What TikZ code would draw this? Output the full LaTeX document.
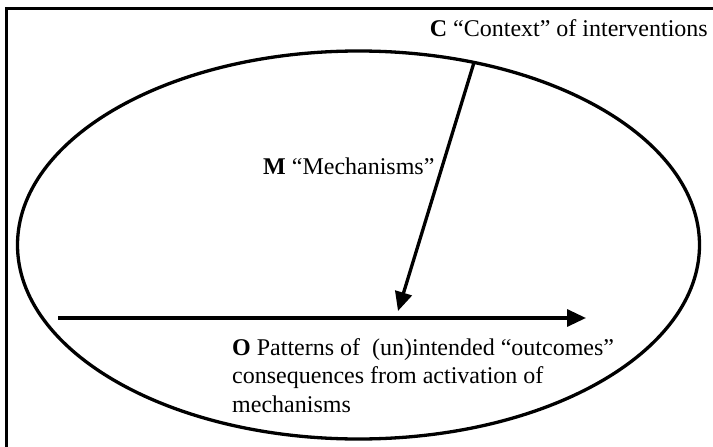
\documentclass[tikz,border=0pt]{standalone}
\usepackage{fontspec}
\setmainfont{Liberation Serif}
\usetikzlibrary{arrows.meta,shapes.geometric}
\begin{document}
\begin{tikzpicture}[x=1pt,y=-1pt,
  thickline/.style={line width=3.3pt},
  arr/.style={line width=3.3pt,-{Triangle[length=19pt,width=17pt]}},
  lbl/.style={inner sep=0pt,font=\fontsize{24}{28.5}\selectfont}]
\useasboundingbox (0,0) rectangle (713,447);
\fill[white] (0,0) rectangle (713,447);
% frame (left and top edges)
\draw[line width=3pt] (6,447) -- (6,8.5) -- (713,8.5);
% ellipse
\node[draw,thickline,ellipse,inner sep=0pt,minimum width=682pt,minimum height=388pt] (ell) at (358.5,245) {};
% coordinates
\coordinate (cstart) at (474,62.5);
\coordinate (mtip) at (398,311);
\coordinate (ostart) at (58,318);
\coordinate (oend) at (586,318);
% arrows
\draw[arr] (cstart) -- (mtip);
\draw[arr] (ostart) -- (oend);
% labels
\node[lbl,anchor=base east] (C) at (708,36) {\textbf{C} “Context” of interventions};
\node[lbl,anchor=base west] (M) at (263,174) {\textbf{M} “Mechanisms”};
\node[lbl,anchor=base west,align=left] (O) at (232,412) {\textbf{O} Patterns of\ \ (un)intended “outcomes”\\consequences from activation of\\mechanisms};
\end{tikzpicture}
\end{document}
